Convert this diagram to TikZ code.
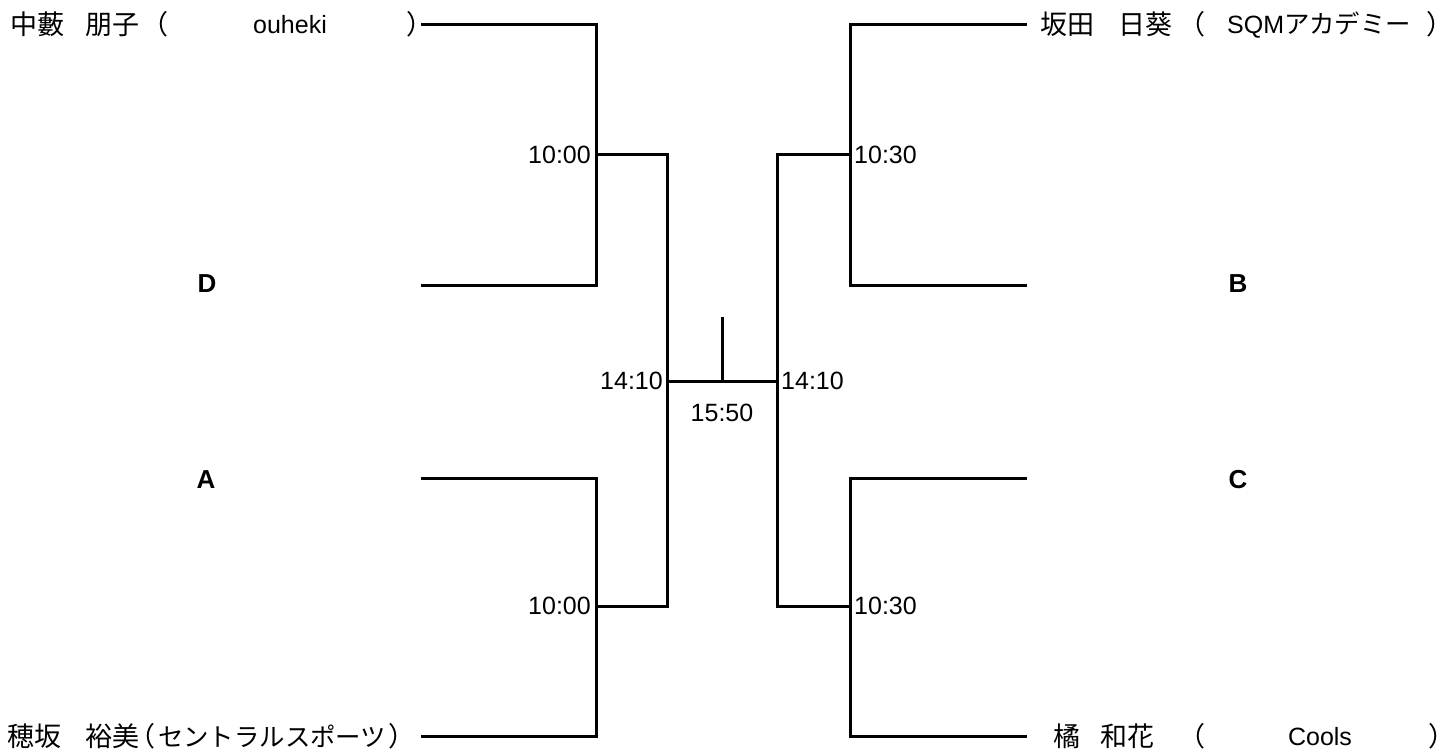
\documentclass[tikz,border=0pt]{standalone}
\usepackage{fontspec}
\setmainfont{Liberation Sans}
\newfontfamily\jp[Scale=1.08]{Noto Sans CJK JP}
\newcommand{\rpar}{\makebox[0.4em][l]{\jp ）}}
\newcommand{\kana}{\fontsize{23.5}{27}\selectfont\jp}
\begin{document}
\begin{tikzpicture}[x=1pt,y=-1pt,
  br/.style={line width=3pt,line cap=rect},
  lbl/.style={inner sep=0pt,font=\fontsize{25}{29}\selectfont},
  tm/.style={lbl,font=\fontsize{25}{29}\selectfont},
  seed/.style={lbl,font=\fontsize{26}{30}\selectfont\bfseries}]
\useasboundingbox (0,0) rectangle (1449,749);
% coordinates
\coordinate (l1) at (422,25);
\coordinate (l2) at (422,285);
\coordinate (l3) at (422,478);
\coordinate (l4) at (422,736);
\coordinate (r1) at (1025,25);
\coordinate (r2) at (1025,285);
\coordinate (r3) at (1025,478);
\coordinate (r4) at (1025,736);
\coordinate (la) at (596,155);
\coordinate (lb) at (596,606);
\coordinate (ra) at (850,155);
\coordinate (rb) at (850,606);
\coordinate (lc) at (667,381);
\coordinate (rc) at (777,381);
\coordinate (top) at (722,318);
\coordinate (mid) at (722,381);
% left bracket
\draw[br] (l1) -| (la) |- (l2);
\draw[br] (l3) -| (lb) |- (l4);
\draw[br] (la) -| (lc) |- (lb);
% right bracket
\draw[br] (r1) -| (ra) |- (r2);
\draw[br] (r3) -| (rb) |- (r4);
\draw[br] (ra) -| (rc) |- (rb);
% final
\draw[br] (lc) -- (rc);
\draw[br] (top) -- (mid);
% times
\node[tm,anchor=east] (t1) at (591,155) {10:00};
\node[tm,anchor=east] (t2) at (591,606) {10:00};
\node[tm,anchor=west] (t3) at (854,155) {10:30};
\node[tm,anchor=west] (t4) at (854,606) {10:30};
\node[tm,anchor=east] (t5) at (663,381) {14:10};
\node[tm,anchor=west] (t6) at (781,381) {14:10};
\node[tm] (t7) at (722,413) {15:50};
% seeds
\node[seed] (sd) at (207,284) {D};
\node[seed] (sa) at (206,480) {A};
\node[seed] (sb) at (1238,284) {B};
\node[seed] (sc) at (1238,480) {C};
% names left
\node[lbl,anchor=base west] (n1a) at (10,35) {\jp 中藪};
\node[lbl,anchor=base west] (n1b) at (85,35) {\jp 朋子};
\node[lbl,anchor=base west] (n1p) at (141,35) {\jp （};
\node[lbl,anchor=base] (n1c) at (290,34) {ouheki};
\node[lbl,anchor=base west] (n1d) at (406,35) {\rpar};
\node[lbl,anchor=base west] (n2a) at (7,746) {\jp 穂坂};
\node[lbl,anchor=base west] (n2b) at (85,746) {\jp 裕美};
\node[lbl,anchor=base west] (n2p) at (128,746) {\jp （};
\node[lbl,anchor=base west] (n2c) at (158,746) {\kana セントラルスポーツ};
\node[lbl,anchor=base west] (n2d) at (388,746) {\rpar};
% names right
\node[lbl,anchor=base west] (n3a) at (1040,35) {\jp 坂田};
\node[lbl,anchor=base west] (n3b) at (1118,35) {\jp 日葵};
\node[lbl,anchor=base west] (n3c) at (1178,35) {\jp （};
\node[lbl,anchor=base west] (n3d) at (1227,34) {SQM{\kana アカデミー}};
\node[lbl,anchor=base west] (n3e) at (1426,35) {\rpar};
\node[lbl,anchor=base west] (n4a) at (1053,746) {\jp 橘};
\node[lbl,anchor=base west] (n4b) at (1100,746) {\jp 和花};
\node[lbl,anchor=base west] (n4c) at (1178,746) {\jp （};
\node[lbl,anchor=base] (n4d) at (1320,745) {Cools};
\node[lbl,anchor=base west] (n4e) at (1428,746) {\rpar};
\end{tikzpicture}
\end{document}
